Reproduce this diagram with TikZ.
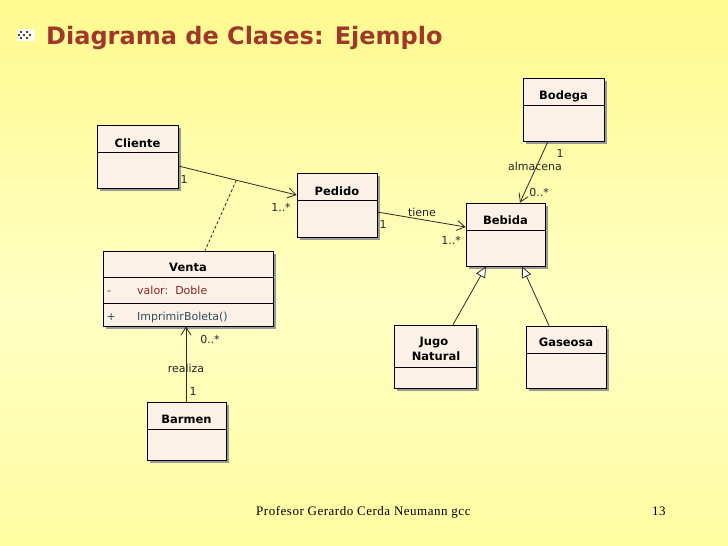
\documentclass[tikz,border=0pt]{standalone}
\usepackage{fontspec}
\setmainfont{DejaVu Sans}
\newfontfamily\footfont[LetterSpace=4.0]{Liberation Serif}
\usetikzlibrary{arrows.meta,shadows,fit}
\definecolor{ytop}{HTML}{FFF45E}
\definecolor{ymid}{HTML}{FFFFC4}
\definecolor{ybot}{HTML}{FFFA78}
\definecolor{titlered}{HTML}{A0372B}
\definecolor{boxfill}{HTML}{FBF1E6}
\definecolor{attrred}{HTML}{8B2323}
\definecolor{opslate}{HTML}{2F4F5F}
\definecolor{linecol}{HTML}{2A2A2A}
\definecolor{dotcol}{HTML}{3C4650}
\pgfdeclareverticalshading{bgshade}{100bp}{color(0bp)=(ybot); color(47bp)=(ymid); color(100bp)=(ytop)}
\begin{document}
\begin{tikzpicture}[x=1pt,y=-1pt,
  cls/.style={draw=black, line width=0.8pt, fill=boxfill, inner sep=0pt,
    drop shadow={shadow xshift=3pt, shadow yshift=-3pt, fill=black!40, opacity=1}},
  sepline/.style={draw=black, line width=0.8pt},
  cname/.style={font=\fontsize{11.5}{13}\selectfont\bfseries, anchor=base, inner sep=0pt},
  lbl/.style={font=\fontsize{11}{13}\selectfont, inner sep=0pt, text=black!85},
  attr/.style={font=\fontsize{11}{13}\selectfont, anchor=base west, inner sep=0pt},
  assoc/.style={draw=linecol, line width=0.8pt, -{Straight Barb[length=8pt,width=10pt]}},
  gener/.style={draw=linecol, line width=0.8pt, -{Triangle[open,fill=white,length=11pt,width=10pt]}},
  assocdash/.style={draw=linecol, line width=0.8pt, dash pattern=on 3pt off 2pt},
  dotstyle/.style={fill=dotcol, draw=none},
  foot/.style={font=\footfont\fontsize{13}{15}\selectfont, anchor=base west, inner sep=0pt}
]
% background
\shade[shading=bgshade] (0,0) rectangle (728,546);
\useasboundingbox (0,0) rectangle (728,546);

% title bullet
\fill[white, opacity=0.85] (17,29) rectangle (35,41);
\foreach \px/\py in {20/31,20/37,23/34,26/31,26/37,29/34,17.5/34}
  \fill[dotstyle] (\px,\py) rectangle ++(2.4,2.4);
% title
\node[font=\fontsize{24}{28}\selectfont\bfseries, text=titlered, anchor=base west, inner sep=0pt] (title) at (46,44) {Diagrama de Clases: Ejemplo};

% classes
\node[cls, fit={(97,125) (178,188)}] (cliente) {};
\draw[sepline] (cliente.west |- 0,152) -- (cliente.east |- 0,152);
\node[cname] (clienteN) at (137.5,147) {Cliente};

\node[cls, fit={(297,173) (377,237)}] (pedido) {};
\draw[sepline] (pedido.west |- 0,200) -- (pedido.east |- 0,200);
\node[cname] (pedidoN) at (337,195) {Pedido};

\node[cls, fit={(523,78) (604,141)}] (bodega) {};
\draw[sepline] (bodega.west |- 0,105) -- (bodega.east |- 0,105);
\node[cname] (bodegaN) at (563.5,99) {Bodega};

\node[cls, fit={(466,203) (545,266)}] (bebida) {};
\draw[sepline] (bebida.west |- 0,230) -- (bebida.east |- 0,230);
\node[cname] (bebidaN) at (505.5,224) {Bebida};

\node[cls, fit={(103,251) (273,326)}] (venta) {};
\draw[sepline] (venta.west |- 0,277) -- (venta.east |- 0,277);
\draw[sepline] (venta.west |- 0,303) -- (venta.east |- 0,303);
\node[cname] (ventaN) at (188,271) {Venta};
\node[attr, text=attrred] (attrSign) at (107,294) {-};
\node[attr, text=attrred] (attrTxt) at (137,294) {valor:\hspace{7pt}Doble};
\node[attr, text=opslate] (opSign) at (106.5,320) {+};
\node[attr, text=opslate] (opTxt) at (137,320) {ImprimirBoleta()};

\node[cls, fit={(147,402) (226,460)}] (barmen) {};
\draw[sepline] (barmen.west |- 0,429) -- (barmen.east |- 0,429);
\node[cname] (barmenN) at (186.5,423) {Barmen};

\node[cls, fit={(394,325) (476,388)}] (jugo) {};
\draw[sepline] (jugo.west |- 0,367) -- (jugo.east |- 0,367);
\node[cname] (jugoN1) at (434,345) {Jugo};
\node[cname] (jugoN2) at (436,360) {Natural};

\node[cls, fit={(526,326) (606,388)}] (gaseosa) {};
\draw[sepline] (gaseosa.west |- 0,353) -- (gaseosa.east |- 0,353);
\node[cname] (gaseosaN) at (566,346) {Gaseosa};

% connectors
\draw[assoc] (cliente.east |- 0,166) -- coordinate[pos=0.49] (assocmid) (pedido.west |- 0,195);
\draw[assocdash] (assocmid) -- (venta.north -| 205,0);
\draw[assoc] (pedido.east |- 0,212) -- (bebida.west |- 0,227);
\draw[assoc] (bodega.south -| 548,0) -- (bebida.north -| 520,0);
\draw[gener] (jugo.north -| 453,0) -- (bebida.south -| 486,0);
\draw[gener] (gaseosa.north -| 549,0) -- (bebida.south -| 522,0);
\draw[assoc] (barmen.north -| 186,0) -- (venta.south -| 186,0);

% labels
\node[lbl] (m1) at (184,179) {1};
\node[lbl] (m2) at (281,207) {1..*};
\node[lbl] (m3) at (383,224) {1};
\node[lbl] (tiene) at (422,212) {tiene};
\node[lbl] (m4) at (451,240) {1..*};
\node[lbl] (m5) at (560,153) {1};
\node[lbl] (almacena) at (535,166) {almacena};
\node[lbl] (m6) at (539,192) {0..*};
\node[lbl] (m7) at (210,339) {0..*};
\node[lbl] (realiza) at (186,368) {realiza};
\node[lbl] (m8) at (193,391) {1};

% footer
\begin{scope}
\clip (250,500) rectangle (472,525);
\node[foot] (footer) at (256,515) {Profesor Gerardo Cerda Neumann gcc};
\end{scope}
\node[foot] (pagenum) at (652,515) {13};
\end{tikzpicture}
\end{document}
